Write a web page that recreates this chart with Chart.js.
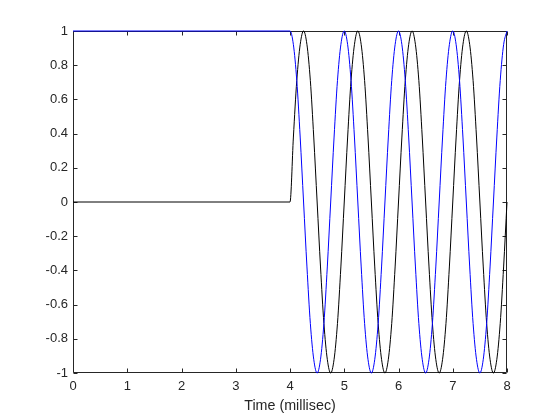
<!DOCTYPE html>
<html>
<head>
<meta charset="utf-8">
<script src="https://cdn.jsdelivr.net/npm/chart.js@4.4.0/dist/chart.umd.min.js"></script>
<style>
  html, body { margin: 0; padding: 0; background: #fff; }
</style>
</head>
<body>
<canvas id="myChart" width="560" height="420"></canvas>
<script>
// time axis in milliseconds (flat until 4 ms, then 1 kHz tone)
var timeMs = [0,
  4, 4.0625, 4.125, 4.1875, 4.25, 4.3125, 4.375, 4.4375, 4.5, 4.5625, 4.625, 4.6875, 4.75, 4.8125, 4.875, 4.9375,
  5, 5.0625, 5.125, 5.1875, 5.25, 5.3125, 5.375, 5.4375, 5.5, 5.5625, 5.625, 5.6875, 5.75, 5.8125, 5.875, 5.9375,
  6, 6.0625, 6.125, 6.1875, 6.25, 6.3125, 6.375, 6.4375, 6.5, 6.5625, 6.625, 6.6875, 6.75, 6.8125, 6.875, 6.9375,
  7, 7.0625, 7.125, 7.1875, 7.25, 7.3125, 7.375, 7.4375, 7.5, 7.5625, 7.625, 7.6875, 7.75, 7.8125, 7.875, 7.9375,
  8];

// blue trace
var blueSignal = [1,
  1, 0.92, 0.71, 0.38, 0, -0.38, -0.71, -0.92, -1, -0.92, -0.71, -0.38, 0, 0.38, 0.71, 0.92,
  1, 0.92, 0.71, 0.38, 0, -0.38, -0.71, -0.92, -1, -0.92, -0.71, -0.38, 0, 0.38, 0.71, 0.92,
  1, 0.92, 0.71, 0.38, 0, -0.38, -0.71, -0.92, -1, -0.92, -0.71, -0.38, 0, 0.38, 0.71, 0.92,
  1, 0.92, 0.71, 0.38, 0, -0.38, -0.71, -0.92, -1, -0.92, -0.71, -0.38, 0, 0.38, 0.71, 0.92,
  1];

// black trace
var blackSignal = [0,
  0, 0.38, 0.71, 0.92, 1, 0.92, 0.71, 0.38, 0, -0.38, -0.71, -0.92, -1, -0.92, -0.71, -0.38,
  0, 0.38, 0.71, 0.92, 1, 0.92, 0.71, 0.38, 0, -0.38, -0.71, -0.92, -1, -0.92, -0.71, -0.38,
  0, 0.38, 0.71, 0.92, 1, 0.92, 0.71, 0.38, 0, -0.38, -0.71, -0.92, -1, -0.92, -0.71, -0.38,
  0, 0.38, 0.71, 0.92, 1, 0.92, 0.71, 0.38, 0, -0.38, -0.71, -0.92, -1, -0.92, -0.71, -0.38,
  0];

var xTickStep = 1;
var yTickStep = 0.2;
var xLabel = 'Time (millisec)';

var axisColor = '#262626';
var fontFamily = '"Liberation Sans", Arial, sans-serif';

function toPoints(ys) {
  return timeMs.map(function (t, i) { return { x: t, y: ys[i] }; });
}

// MATLAB-like box with inward ticks, drawn under the lines
var boxPlugin = {
  id: 'box',
  beforeDatasetsDraw: function (chart) {
    var ctx = chart.ctx, a = chart.chartArea;
    var xs = chart.scales.x, ys = chart.scales.y;
    var L = Math.round(a.left) + 0.5, R = Math.round(a.right) - 0.5;
    var T = Math.round(a.top) + 0.5, B = Math.round(a.bottom) - 0.5;
    var len = 4;
    ctx.save();
    ctx.strokeStyle = axisColor;
    ctx.lineWidth = 1;
    ctx.beginPath();
    ctx.rect(L, T, R - L, B - T);
    xs.ticks.forEach(function (t) {
      var px = Math.round(xs.getPixelForValue(t.value)) + 0.5;
      ctx.moveTo(px, B); ctx.lineTo(px, B - len);
      ctx.moveTo(px, T); ctx.lineTo(px, T + len);
    });
    ys.ticks.forEach(function (t) {
      var py = Math.round(ys.getPixelForValue(t.value)) + 0.5;
      ctx.moveTo(L, py); ctx.lineTo(L + len, py);
      ctx.moveTo(R, py); ctx.lineTo(R - len, py);
    });
    ctx.stroke();
    ctx.restore();
  }
};

var ctx = document.getElementById('myChart').getContext('2d');
var chart = new Chart(ctx, {
  type: 'line',
  data: {
    datasets: [{
      data: toPoints(blueSignal),
      borderColor: '#0000ff',
      borderWidth: 1,
      pointRadius: 0,
      cubicInterpolationMode: 'monotone',
      fill: false,
      clip: false
    }, {
      data: toPoints(blackSignal),
      borderColor: '#000000',
      borderWidth: 1,
      pointRadius: 0,
      cubicInterpolationMode: 'monotone',
      fill: false,
      clip: false
    }]
  },
  options: {
    responsive: false,
    animation: false,
    events: [],
    layout: { padding: { left: 0, right: 53, top: 31, bottom: 0 } },
    plugins: { legend: { display: false }, tooltip: { enabled: false } },
    scales: {
      x: {
        type: 'linear',
        min: 0,
        max: 8,
        grid: { display: false, drawTicks: false },
        border: { display: false },
        ticks: { stepSize: xTickStep, padding: 6, color: axisColor, font: { family: fontFamily, size: 13 }, maxRotation: 0 },
        title: { display: true, text: xLabel, color: axisColor, font: { family: fontFamily, size: 14.3 }, padding: { top: 0, bottom: 5 } },
        afterFit: function (s) { s.height = 47; }
      },
      y: {
        min: -1,
        max: 1,
        grid: { display: false, drawTicks: false },
        border: { display: false },
        ticks: {
          stepSize: yTickStep, padding: 5, color: axisColor, font: { family: fontFamily, size: 13 },
          callback: function (v) { return String(Number(v.toFixed(1))); }
        },
        afterFit: function (s) { s.width = 73; }
      }
    }
  },
  plugins: [boxPlugin]
});
</script>
</body>
</html>
